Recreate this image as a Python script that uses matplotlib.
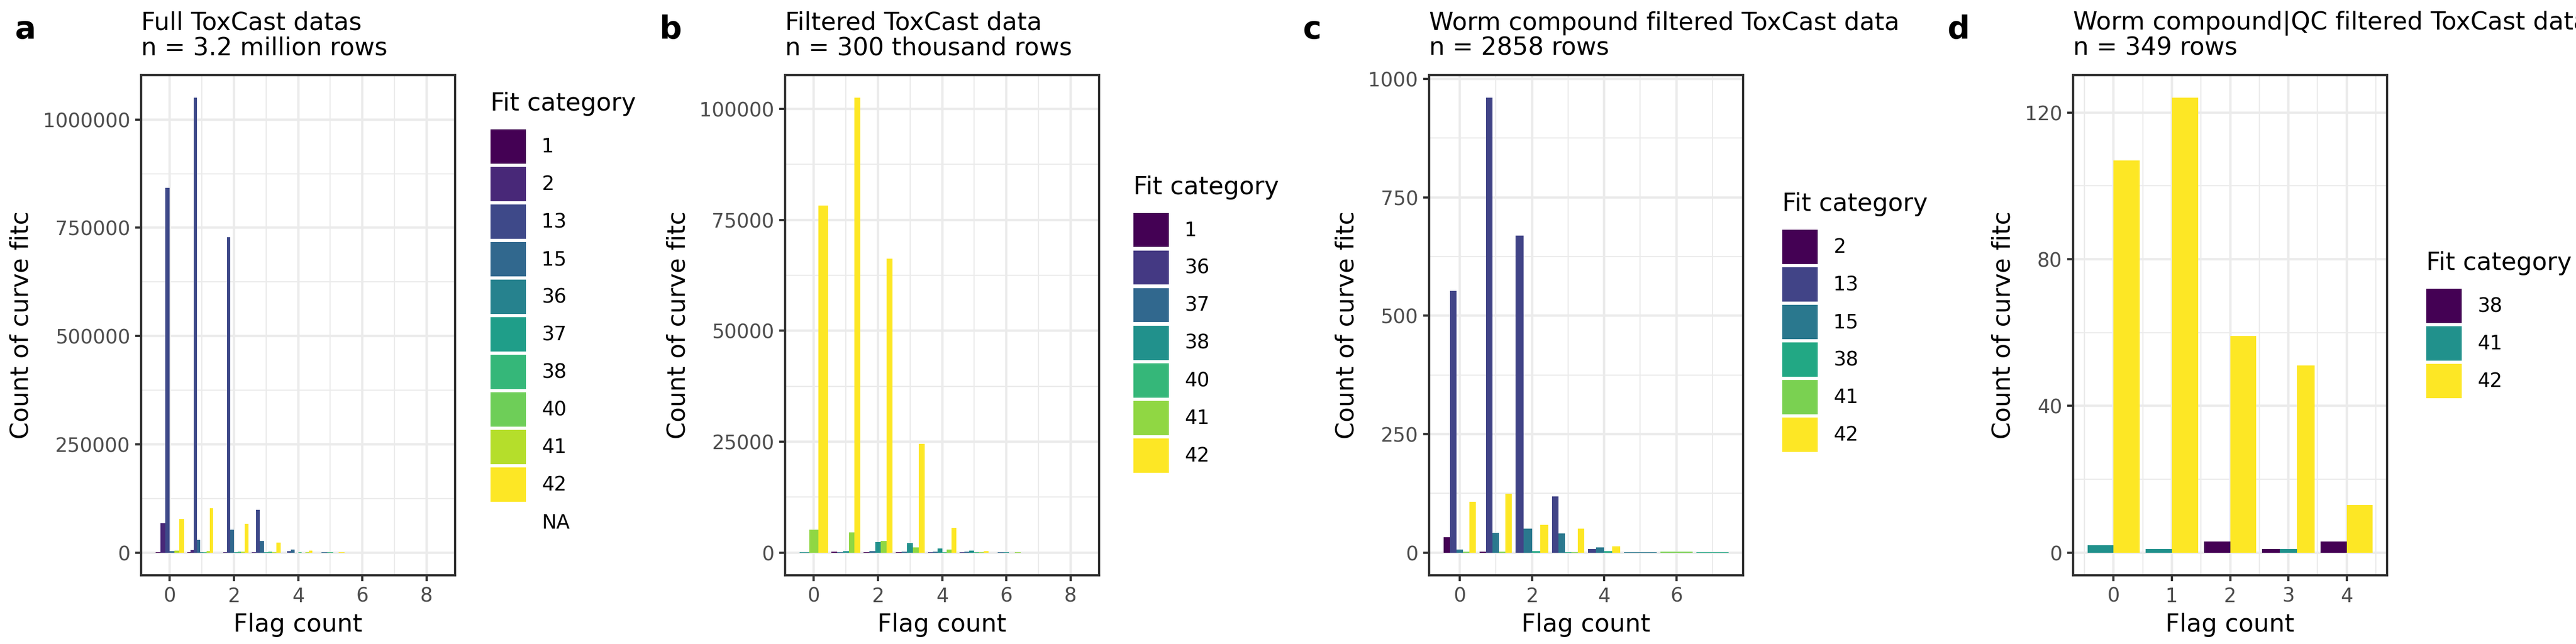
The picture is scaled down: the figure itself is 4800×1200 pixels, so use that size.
import matplotlib
matplotlib.use('Agg')
import matplotlib.pyplot as plt
import numpy as np
from matplotlib.patches import Patch
from matplotlib.ticker import MultipleLocator, FuncFormatter

plt.rcParams['font.family'] = ['DejaVu Sans']

# ---- panel a: full ToxCast data ----
a_levels = ['1', '2', '13', '15', '36', '37', '38', '40', '41', '42', 'NA']
a_flag = [0, 0, 0, 0, 0, 0,
          1, 1, 1, 1, 1, 1, 1, 1, 1,
          2, 2, 2, 2, 2, 2, 2, 2,
          3, 3, 3, 3, 3, 3, 3,
          4, 4, 4, 4, 4, 4, 4, 4,
          5, 5, 5, 5, 5,
          6, 6, 7, 8]
a_fit = ['1', '2', '13', '15', '41', '42',
         '1', '2', '13', '15', '36', '38', '41', '42', 'NA',
         '1', '2', '13', '15', '37', '38', '41', '42',
         '2', '13', '15', '37', '38', '41', '42',
         '2', '13', '15', '37', '38', '40', '41', '42',
         '13', '15', '38', '41', '42',
         '15', '38', '15', '15']
a_count = [300, 67700, 842000, 3700, 5000, 77700,
           200, 6200, 1050000, 29900, 300, 800, 3700, 102000, 500,
           150, 400, 728000, 52300, 300, 2000, 2000, 66000,
           300, 99300, 26200, 200, 1700, 1200, 23700,
           100, 3700, 6600, 100, 800, 150, 500, 5000,
           150, 200, 300, 100, 250,
           100, 150, 30, 10]

# ---- panel b: filtered ToxCast data ----
b_levels = ['1', '36', '37', '38', '40', '41', '42']
b_flag = [0, 0, 0,
          1, 1, 1, 1, 1,
          2, 2, 2, 2, 2,
          3, 3, 3, 3, 3,
          4, 4, 4, 4, 4, 4,
          5, 5, 5, 5, 5, 5,
          6, 6, 6, 6, 6,
          7, 7, 8]
b_fit = ['38', '41', '42',
         '1', '37', '38', '41', '42',
         '1', '37', '38', '41', '42',
         '1', '37', '38', '41', '42',
         '36', '37', '38', '40', '41', '42',
         '36', '37', '38', '40', '41', '42',
         '36', '37', '38', '40', '41',
         '37', '38', '38']
b_count = [60, 5200, 78200,
           160, 40, 280, 4500, 102500,
           120, 330, 2360, 2640, 66300,
           60, 200, 2150, 1220, 24500,
           20, 150, 900, 30, 700, 5570,
           30, 150, 450, 20, 120, 330,
           10, 40, 60, 10, 30,
           10, 15, 5]

# ---- panel c: worm compound filtered ----
c_levels = ['2', '13', '15', '38', '41', '42']
c_flag = [0, 0, 0, 0, 0,
          1, 1, 1, 1, 1,
          2, 2, 2, 2,
          3, 3, 3, 3, 3,
          4, 4, 4, 4,
          5, 6, 7]
c_fit = ['2', '13', '15', '41', '42',
         '2', '13', '15', '41', '42',
         '13', '15', '38', '42',
         '13', '15', '38', '41', '42',
         '13', '15', '38', '42',
         '15', '41', '38']
c_count = [32, 553, 6, 2, 107,
           2, 960, 41, 2, 124,
           669, 51, 3, 59,
           118, 40, 1, 1, 51,
           7, 11, 3, 13,
           1, 2, 1]

# ---- panel d: worm compound | QC filtered ----
d_levels = ['38', '41', '42']
d_flag = [0, 0, 1, 1, 2, 2, 3, 3, 3, 4, 4]
d_fit = ['41', '42', '41', '42', '38', '42', '38', '41', '42', '38', '42']
d_count = [2, 107, 1, 124, 3, 59, 1, 1, 51, 3, 13]

panels = [
    dict(tag='a', title='Full ToxCast datas\nn = 3.2 million rows',
         levels=a_levels, flag=a_flag, fit=a_fit, count=a_count,
         xstep=2, xminor=1, ystep=250000, leg_x=914, leg_y=0.51),
    dict(tag='b', title='Filtered ToxCast data\nn = 300 thousand rows',
         levels=b_levels, flag=b_flag, fit=b_fit, count=b_count,
         xstep=2, xminor=1, ystep=25000, leg_x=2112, leg_y=0.497),
    dict(tag='c', title='Worm compound filtered ToxCast data\nn = 2858 rows',
         levels=c_levels, flag=c_flag, fit=c_fit, count=c_count,
         xstep=2, xminor=1, ystep=250, leg_x=3321, leg_y=0.5),
    dict(tag='d', title='Worm compound|QC filtered ToxCast data\nn = 349 rows',
         levels=d_levels, flag=d_flag, fit=d_fit, count=d_count,
         xstep=1, xminor=0.5, ystep=40, leg_x=4521, leg_y=0.496),
]


def level_colors(levels):
    real = [l for l in levels if l != 'NA']
    cols = plt.cm.viridis(np.linspace(0, 1, len(real)))
    out = {}
    for l, c in zip(real, cols):
        out[l] = c
    out['NA'] = 'none'
    return out


def draw_dodged(ax, flag, fit, count, levels, colors):
    for x in sorted(set(flag)):
        rows = [(levels.index(f), f, c) for fl, f, c in zip(flag, fit, count) if fl == x]
        rows.sort()
        w = 0.9 / len(rows)
        for i, (_, f, c) in enumerate(rows):
            ax.bar(x - 0.45 + w * (i + 0.5), c, width=w, color=colors[f], linewidth=0)


W, H = 4800, 1200
fig = plt.figure(figsize=(16, 4), dpi=300)

for i, p in enumerate(panels):
    ax = fig.add_axes([(263 + 1200 * i) / W, 1 - 1072 / H, 585 / W, 932 / H])
    colors = level_colors(p['levels'])
    draw_dodged(ax, p['flag'], p['fit'], p['count'], p['levels'], colors)

    # ggplot-like expansion
    lo, hi = -0.45, max(p['flag']) + 0.45
    span = hi - lo
    ax.set_xlim(lo - 0.05 * span, hi + 0.05 * span)
    ymax = max(p['count'])
    ax.set_ylim(-0.05 * ymax, 1.05 * ymax)

    ax.xaxis.set_major_locator(MultipleLocator(p['xstep']))
    ax.xaxis.set_minor_locator(MultipleLocator(p['xminor']))
    ax.yaxis.set_major_locator(MultipleLocator(p['ystep']))
    ax.yaxis.set_minor_locator(MultipleLocator(p['ystep'] / 2))
    ax.xaxis.set_major_formatter(FuncFormatter(lambda v, pos: '%d' % round(v)))
    ax.yaxis.set_major_formatter(FuncFormatter(lambda v, pos: '%d' % round(v)))

    ax.set_axisbelow(True)
    ax.grid(which='major', color='#EBEBEB', linewidth=1.07)
    ax.grid(which='minor', color='#EBEBEB', linewidth=0.53)
    for s in ax.spines.values():
        s.set_color('#333333')
        s.set_linewidth(1.0)
    ax.tick_params(which='major', direction='out', length=2.75, width=1.0,
                   color='#333333', labelsize=8.8, labelcolor='#4D4D4D', pad=2.2)
    ax.tick_params(which='minor', length=0)

    ax.set_xlabel('Flag count', fontsize=11, labelpad=3)
    ax.set_ylabel('Count of curve fitc', fontsize=11, labelpad=4)
    ax.set_title(p['title'], loc='left', fontsize=11, pad=9, linespacing=1.05)

    fig.text((28 + 1200 * i) / W, 1 - 72 / H, p['tag'], fontsize=14,
             fontweight='bold', va='baseline', ha='left')

    handles = [Patch(facecolor=colors[l], edgecolor='none') for l in p['levels']]
    leg = ax.legend(handles, p['levels'], title='Fit category', loc='center left',
                    bbox_to_anchor=(p['leg_x'] / W, p['leg_y']), bbox_transform=fig.transFigure,
                    frameon=False, fontsize=8.8, title_fontsize=11,
                    handlelength=1.8, handleheight=2.3, handletextpad=0.8,
                    labelspacing=0.17, borderpad=0, borderaxespad=0, alignment='left')
    leg._legend_box.sep = 6  # space between legend title and keys

fig.savefig('out.png', dpi=300, facecolor='white')
